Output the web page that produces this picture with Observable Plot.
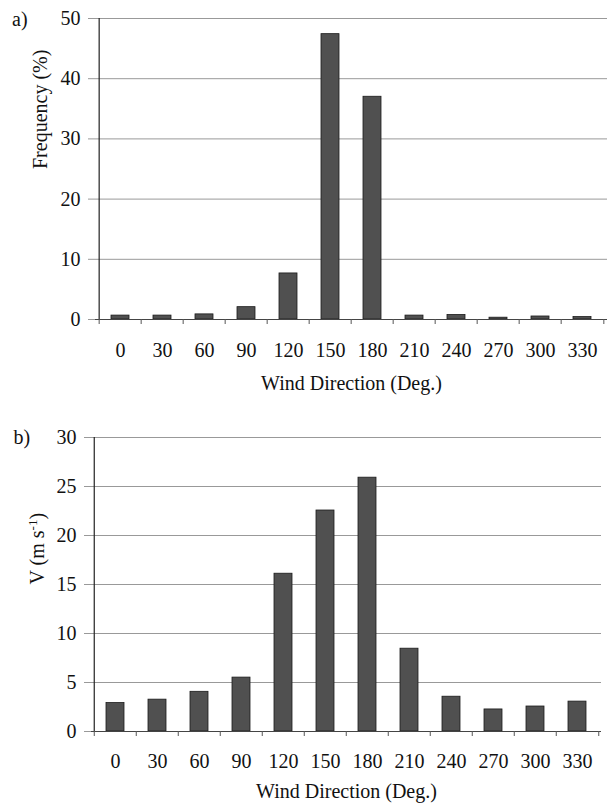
<!DOCTYPE html>
<html>
<head>
<meta charset="utf-8">
<script src="https://cdn.jsdelivr.net/npm/d3@7"></script>
<script src="https://cdn.jsdelivr.net/npm/@observablehq/plot@0.6"></script>
<style>
  html, body { margin: 0; padding: 0; background: #fff; }
  #chart { width: 607px; height: 803px; overflow: hidden; }
  #chart svg { display: block; }
  #chart svg, #chart svg text, #chart svg tspan { font-family: "Liberation Serif", "Times New Roman", serif !important; }
</style>
</head>
<body>
<div id="chart"></div>
<script>
const directions = ["0", "30", "60", "90", "120", "150", "180", "210", "240", "270", "300", "330"];
const frequency = [0.65, 0.65, 0.85, 2.05, 7.65, 47.4, 37.0, 0.65, 0.75, 0.3, 0.5, 0.4];
const speed = [2.9, 3.25, 4.05, 5.5, 16.1, 22.55, 25.9, 8.45, 3.55, 2.25, 2.55, 3.05];
const freqTicks = [0, 10, 20, 30, 40, 50];
const speedTicks = [0, 5, 10, 15, 20, 25, 30];

const FONT = "Liberation Serif, Times New Roman, serif";
const FS = 20;

function panel({values, ticks, ymax, height, ml, mr, mt, mb, tag, ylabel, ydx, tagdx, tagdy, tickPad, ytickPad, titleDy}) {
  const data = directions.map((d, i) => ({dir: d, v: values[i]}));
  const width = 607;
  const step = (width - ml - mr) / directions.length;
  return Plot.plot({
    width, height,
    marginLeft: ml, marginRight: mr, marginTop: mt, marginBottom: mb,
    style: {fontFamily: FONT, fontSize: FS + "px", color: "#111", background: "#fff"},
    x: {type: "band", domain: directions, paddingInner: 0.57, paddingOuter: 0.285, align: 0.5},
    y: {domain: [0, ymax]},
    marks: [
      Plot.gridY(ticks, {stroke: "#999", strokeOpacity: 1, strokeWidth: 1}),
      Plot.axisY(ticks, {tickSize: 7, tickPadding: ytickPad, stroke: "#999", strokeOpacity: 1, fill: "#111", fontSize: FS, fontFamily: FONT, label: null}),
      Plot.axisX({tickSize: 0, tickPadding: tickPad, fill: "#111", fontSize: FS, fontFamily: FONT, label: null}),
      Plot.barY(data, {x: "dir", y: "v", fill: "#505050", stroke: "#1a1a1a", strokeWidth: 0.8}),
      Plot.ruleY([0], {stroke: "#444", strokeWidth: 1.2}),
      Plot.ruleX([directions[0]], {dx: -step / 2, stroke: "#222", strokeWidth: 1.2}),
      Plot.ruleX(directions, {x: d => d, dx: -step / 2, y1: 0, y2: 0, insetBottom: -5, stroke: "#555"}),
      Plot.ruleX([directions[directions.length - 1]], {x: d => d, dx: step / 2, y1: 0, y2: 0, insetBottom: -5, stroke: "#555"}),
      Plot.text(["Wind Direction (Deg.)"], {frameAnchor: "bottom", lineAnchor: "middle", dy: titleDy, text: d => d, fill: "#111", fontSize: FS, fontFamily: FONT}),
      Plot.text([ylabel], {frameAnchor: "left", lineAnchor: "middle", dx: ydx, rotate: -90, text: d => d, fill: "#111", fontSize: FS, fontFamily: FONT}),
      Plot.text([tag], {frameAnchor: "top-left", lineAnchor: "middle", dx: tagdx, dy: tagdy, textAnchor: "start", text: d => d, fill: "#111", fontSize: FS, fontFamily: FONT})
    ]
  });
}

const panelA = panel({
  values: frequency, ticks: freqTicks, ymax: 50, height: 405,
  ml: 95, mr: 0, mt: 18, mb: 86,
  tag: "a)", ylabel: "Frequency (%)", ydx: -54.5, tagdx: -83.5, tagdy: 1.5,
  tickPad: 23, ytickPad: 8, titleDy: 64
});
const panelB = panel({
  values: speed, ticks: speedTicks, ymax: 30, height: 398,
  ml: 91, mr: 6, mt: 32, mb: 72,
  tag: "b)", ylabel: "V (m s-1)", ydx: -54, tagdx: -78, tagdy: 0,
  tickPad: 22, ytickPad: 8, titleDy: 60.5
});

// superscript for the unit
d3.select(panelB).selectAll("text").filter(function () { return this.textContent === "V (m s-1)"; })
  .each(function () {
    const t = d3.select(this);
    t.text(null);
    t.append("tspan").text("V (m s");
    t.append("tspan").attr("dy", -7).attr("font-size", 13).text("-1");
    t.append("tspan").attr("dy", 7).text(")");
  });

document.getElementById("chart").append(panelA, panelB);
</script>
</body>
</html>
